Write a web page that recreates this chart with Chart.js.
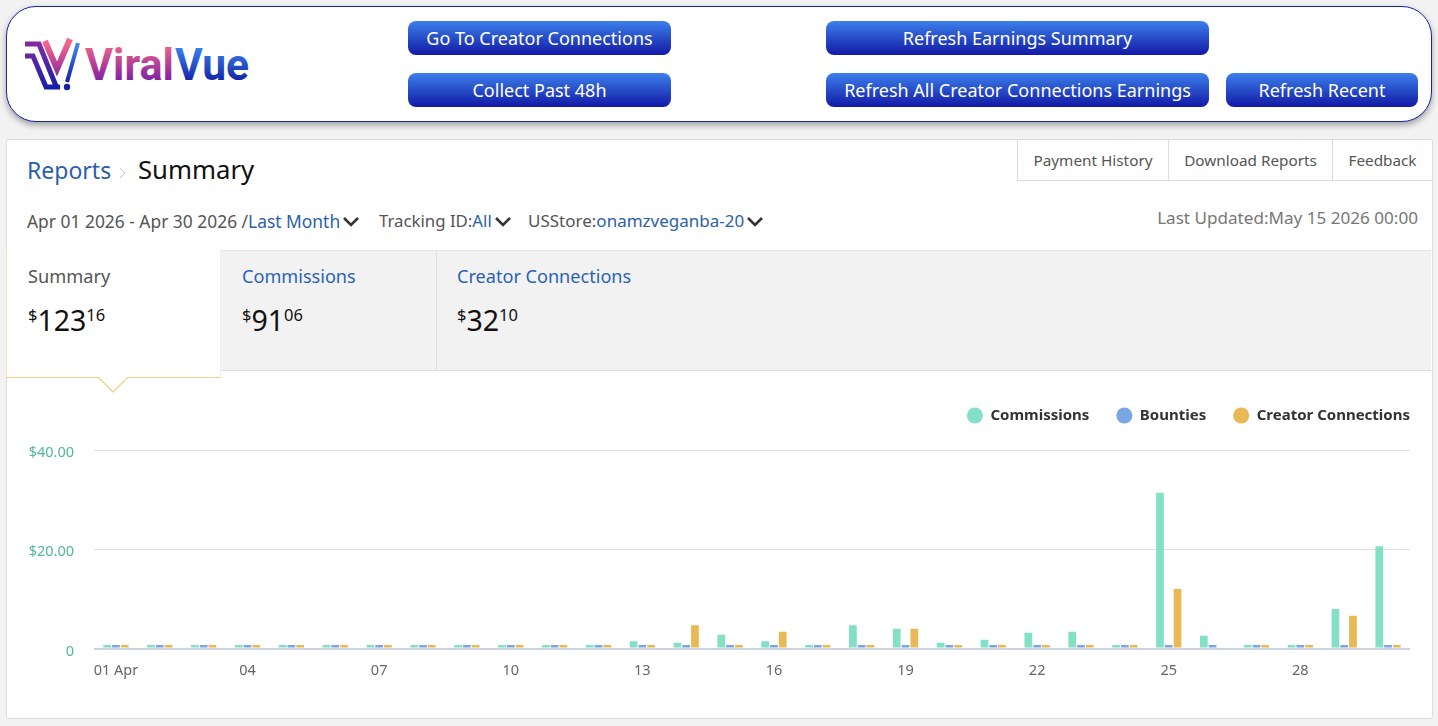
<!DOCTYPE html>
<html>
<head>
<meta charset="utf-8">
<title>Summary</title>
<script src="https://cdn.jsdelivr.net/npm/chart.js@4"></script>
<style>
  html, body { margin: 0; padding: 0; }
  body { width: 1438px; height: 726px; background: #f2f2f2; position: relative; overflow: hidden; font-family: "Noto Sans", sans-serif; color: #555; }
  .abs, .btn, .toptab, .t { position: absolute; }
  .t { white-space: nowrap; line-height: 24px; }
  .link { color: #2d5ea8; }
  #head { left: 6px; top: 6px; width: 1424px; height: 114px; background: #fff; border: 1px solid #1a22b0; border-radius: 30px; box-shadow: 0 3px 6px rgba(0,0,0,.35); }
  .btn { height: 34px; line-height: 34px; border-radius: 8px; color: #fff; text-align: center; font-size: 18px; background: linear-gradient(#3c80ea, #1219a6); }
  #card { left: 6px; top: 139px; width: 1425px; height: 578px; background: #fff; border: 1px solid #dcdcdc; border-radius: 3px; }
  .toptab { top: 140px; height: 40px; line-height: 40px; text-align: center; font-size: 15.3px; border-left: 1px solid #ddd; border-bottom: 1px solid #ddd; background: #fff; }
  #band { left: 7px; top: 250px; width: 1424px; height: 119px; background: #f2f2f2; border-top: 1px solid #e6e6e6; border-bottom: 1px solid #dedede; }
  #sep { left: 436px; top: 251px; width: 1px; height: 119px; background: #dedede; }
  #sumtab { left: 6px; top: 250px; width: 213px; height: 127px; background: #fff; border-right: 1px solid #eee; border-bottom: 1px solid #f5cf88; border-left: 1px solid #f5e3bd; }
  .amt { font-size: 28.5px; color: #111; line-height: 36px; }
  .amt sup { font-size: 16.5px; vertical-align: 10px; line-height: 0; }
  #c { position: absolute; left: 0; top: 381px; }
</style>
</head>
<body>
<div class="abs" id="head"></div>
<svg class="abs" style="left:20px;top:36px" width="235" height="58" viewBox="0 0 235 58">
  <defs>
    <linearGradient id="g1" gradientUnits="userSpaceOnUse" x1="0" y1="8" x2="0" y2="46"><stop offset="0" stop-color="#f2668a"/><stop offset="1" stop-color="#7a1fa2"/></linearGradient>
    <linearGradient id="g2" gradientUnits="userSpaceOnUse" x1="0" y1="8" x2="0" y2="46"><stop offset="0" stop-color="#3c8cf0"/><stop offset="1" stop-color="#1420a8"/></linearGradient>
    <linearGradient id="g3" gradientUnits="userSpaceOnUse" x1="0" y1="5" x2="0" y2="52"><stop offset="0" stop-color="#8a2aa0"/><stop offset="1" stop-color="#1420a8"/></linearGradient>
  </defs>
  <polyline points="5,8 19,8 36,50" fill="none" stroke="url(#g3)" stroke-width="5"/>
  <polyline points="5,20 13,20 26,51 40,51" fill="none" stroke="url(#g3)" stroke-width="5"/>
  <polyline points="25,5 37,33 50,3" fill="none" stroke="url(#g1)" stroke-width="6"/>
  <polyline points="58,7 47,46" fill="none" stroke="url(#g2)" stroke-width="4"/>
  <circle cx="47" cy="51" r="3.2" fill="#1420a8"/>
  <text x="65" y="44" font-family="Roboto" font-weight="700" font-size="45" textLength="89" lengthAdjust="spacingAndGlyphs" fill="url(#g1)">Viral</text>
  <text x="155" y="44" font-family="Roboto" font-weight="700" font-size="45" textLength="74" lengthAdjust="spacingAndGlyphs" fill="url(#g2)">Vue</text>
</svg>
<div class="btn" style="left:408px;top:21px;width:263px">Go To Creator Connections</div>
<div class="btn" style="left:408px;top:73px;width:263px">Collect Past 48h</div>
<div class="btn" style="left:826px;top:21px;width:383px">Refresh Earnings Summary</div>
<div class="btn" style="left:826px;top:73px;width:383px">Refresh All Creator Connections Earnings</div>
<div class="btn" style="left:1226px;top:73px;width:192px">Refresh Recent</div>

<div class="abs" id="card"></div>
<div class="toptab" style="left:1017px;width:150px">Payment History</div>
<div class="toptab" style="left:1168px;width:163px">Download Reports</div>
<div class="toptab" style="left:1332px;width:99px">Feedback</div>

<div class="t link" style="left:27px;top:158px;font-size:23px">Reports</div>
<svg class="abs" style="left:118px;top:166px" width="10" height="14"><path d="M2 2 L7 7 L2 12" fill="none" stroke="#c4c4c4" stroke-width="1"/></svg>
<div class="t" style="left:138px;top:158px;font-size:25.7px;color:#111">Summary</div>

<div class="t" style="left:27px;top:209px;font-size:17.4px">Apr 01 2026 - Apr 30 2026 /<span class="link">Last Month</span></div>
<svg class="abs" style="left:342px;top:216px" width="18" height="12"><path d="M2 2 L9 9 L16 2" fill="none" stroke="#333" stroke-width="2.6"/></svg>
<div class="t" style="left:379px;top:209px;font-size:16.8px">Tracking ID:<span class="link">All</span></div>
<svg class="abs" style="left:494px;top:216px" width="18" height="12"><path d="M2 2 L9 9 L16 2" fill="none" stroke="#333" stroke-width="2.6"/></svg>
<div class="t" style="left:528px;top:209px;font-size:17px">USStore:<span class="link">onamzveganba-20</span></div>
<svg class="abs" style="left:746px;top:216px" width="18" height="12"><path d="M2 2 L9 9 L16 2" fill="none" stroke="#333" stroke-width="2.6"/></svg>
<div class="t" style="right:20px;top:206px;font-size:17.1px;color:#777">Last Updated:May 15 2026 00:00</div>

<div class="abs" id="band"></div>
<div class="abs" id="sep"></div>
<div class="abs" id="sumtab"></div>
<svg class="abs" style="left:96px;top:377px" width="36" height="17"><path d="M2 0 L17 15 L32 0" fill="#fff" stroke="#f5cf88" stroke-width="1.3"/></svg>

<div class="t" style="left:28px;top:264px;font-size:18.2px">Summary</div>
<div class="t amt" style="left:28px;top:302px"><sup>$</sup>123<sup>16</sup></div>
<div class="t" style="left:242px;top:264px;font-size:18.1px;color:#2a62b8">Commissions</div>
<div class="t amt" style="left:242px;top:302px"><sup>$</sup>91<sup>06</sup></div>
<div class="t" style="left:457px;top:264px;font-size:18.1px;color:#2a62b8">Creator Connections</div>
<div class="t amt" style="left:457px;top:302px"><sup>$</sup>32<sup>10</sup></div>

<canvas id="c" width="1438" height="320"></canvas>

<script>
const days = ["01 Apr","02","03","04","05","06","07","08","09","10","11","12","13","14","15","16","17","18","19","20","21","22","23","24","25","26","27","28","29","30"];
const commissions = [0.7,0.7,0.7,0.7,0.7,0.7,0.7,0.7,0.7,0.7,0.7,0.7,1.5,1.2,2.8,1.5,0.7,4.7,4.0,1.2,1.8,3.2,3.4,0.7,31.4,2.6,0.7,0.7,8.0,20.6];
const bounties = [0.7,0.7,0.7,0.7,0.7,0.7,0.7,0.7,0.7,0.7,0.7,0.7,0.7,0.7,0.7,0.7,0.7,0.7,0.7,0.7,0.7,0.7,0.7,0.7,0.7,0.7,0.7,0.7,0.7,0.7];
const creatorConnections = [0.7,0.7,0.7,0.7,0.7,0.7,0.7,0.7,0.7,0.7,0.7,0.7,0.7,4.7,0.7,3.4,0.7,0.7,4.0,0.7,0.7,0.7,0.7,0.7,12.0,0,0.7,0.7,6.6,0.7];

const fontName = "'Noto Sans', sans-serif";

// extra room under the legend
const legendGap = {
  id: "legendGap",
  beforeInit: function(chart) {
    const fit = chart.legend.fit;
    chart.legend.fit = function() {
      fit.call(this);
      this.height += 17;
    };
  }
};

new Chart("c", {
  type: "bar",
  plugins: [legendGap],
  data: {
    labels: days,
    datasets: [
      { label: "Commissions", data: commissions, backgroundColor: "#82e0c4" },
      { label: "Bounties", data: bounties, backgroundColor: "#7ba6e4" },
      { label: "Creator Connections", data: creatorConnections, backgroundColor: "#e8b954" }
    ]
  },
  options: {
    responsive: false,
    animation: false,
    layout: { padding: { right: 1, bottom: 7 } },
    datasets: { bar: { categoryPercentage: 0.6, barPercentage: 0.88 } },
    plugins: {
      tooltip: { enabled: false },
      legend: {
        position: "top",
        align: "end",
        labels: {
          usePointStyle: true,
          pointStyle: "circle",
          pointStyleWidth: 16,
          boxHeight: 11.3,
          padding: 27,
          color: "#333",
          font: { family: fontName, size: 15, weight: "bold" }
        }
      }
    },
    scales: {
      x: {
        grid: { display: false, drawTicks: false },
        border: { display: false },
        ticks: {
          autoSkip: false,
          maxRotation: 0,
          padding: 14,
          color: "#666",
          font: { family: fontName, size: 14.5 },
          callback: function(v, i) { return i % 3 === 0 ? this.getLabelForValue(v) : ""; }
        }
      },
      y: {
        min: 0,
        max: 40,
        afterFit: function(s) { s.width = 94; },
        grid: {
          drawTicks: false,
          color: function(ctx) { return ctx.tick.value === 0 ? "#ccd3e0" : "#dfdfdf"; },
          lineWidth: function(ctx) { return ctx.tick.value === 0 ? 2 : 1; }
        },
        border: { display: false },
        ticks: {
          stepSize: 20,
          padding: 20,
          labelOffset: 3,
          color: "#4fb898",
          font: { family: fontName, size: 14.5 },
          callback: function(v) { return v === 0 ? "0" : "$" + v.toFixed(2); }
        }
      },
      // empty axis, keeps the plot clear of the legend's right edge
      rightGap: {
        position: "right",
        afterFit: function(s) { s.width = 27; },
        grid: { display: false },
        border: { display: false },
        ticks: { display: false }
      }
    }
  }
});
</script>
</body>
</html>
